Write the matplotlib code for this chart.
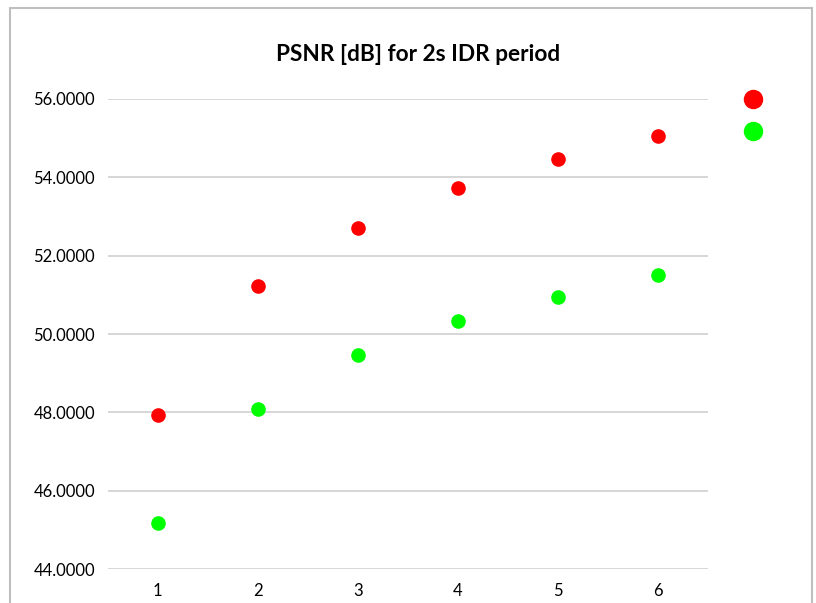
import matplotlib.pyplot as plt
from matplotlib.lines import Line2D
from matplotlib.patches import Rectangle

plt.rcParams["font.family"] = ["Lato", "DejaVu Sans"]

x = [1, 2, 3, 4, 5, 6]
psnr_red = [47.93, 51.23, 52.71, 53.73, 54.47, 55.06]
psnr_green = [45.18, 48.09, 49.46, 50.33, 50.95, 51.51]
yticks = [44, 46, 48, 50, 52, 54, 56]

fig = plt.figure(figsize=(8.16, 6.03), dpi=100)
ax = fig.add_axes([0.132, 0.056, 0.736, 0.78])

ax.scatter(x, psnr_red, s=90, color="#ff0000", zorder=3)
ax.scatter(x, psnr_green, s=90, color="#00ff00", zorder=3)

ax.set_xlim(0.5, 6.5)
ax.set_ylim(44, 56)
ax.set_xticks(x)
ax.set_yticks(yticks)
ax.set_yticklabels([f"{v:.4f}" for v in yticks])
ax.grid(axis="y", color="#d0d0d0", linewidth=1.2)
ax.set_axisbelow(True)
for s in ax.spines.values():
    s.set_visible(False)
ax.tick_params(length=0, labelsize=12, pad=10)
ax.tick_params(axis="y", pad=9)

fig.text(0.512, 0.909, "PSNR [dB] for 2s IDR period", ha="center", va="center",
         fontsize=16.3, fontweight="bold")

# legend with markers only
handles = [
    Line2D([], [], marker="o", linestyle="", markersize=13, color="#ff0000"),
    Line2D([], [], marker="o", linestyle="", markersize=13, color="#00ff00"),
]
fig.legend(handles, ["", ""], loc="center", bbox_to_anchor=(0.923, 0.8075),
           frameon=False, handletextpad=0, labelspacing=1.45, borderpad=0)

# outer chart border
fig.patches.append(Rectangle((0.0125, -0.01), 0.982, 0.997, transform=fig.transFigure,
                             fill=False, edgecolor="#bfbfbf", linewidth=1.5))

fig.savefig("out.png", dpi=100)
